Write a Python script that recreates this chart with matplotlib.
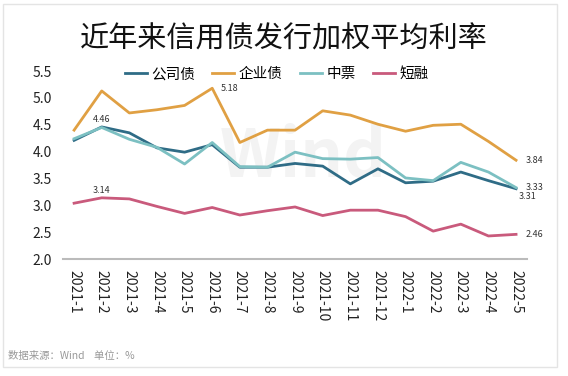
import matplotlib.pyplot as plt
from matplotlib.patches import Rectangle

plt.rcParams['font.family'] = ['Noto Sans CJK SC', 'DejaVu Sans']

months = ['2021-1', '2021-2', '2021-3', '2021-4', '2021-5', '2021-6', '2021-7', '2021-8',
          '2021-9', '2021-10', '2021-11', '2021-12', '2022-1', '2022-2', '2022-3', '2022-4', '2022-5']
gongsi = [4.21, 4.46, 4.35, 4.07, 3.99, 4.13, 3.71, 3.71, 3.78, 3.73, 3.40, 3.68, 3.42, 3.45, 3.62, 3.46, 3.31]
qiye = [4.40, 5.13, 4.72, 4.78, 4.86, 5.18, 4.17, 4.40, 4.40, 4.76, 4.68, 4.51, 4.38, 4.49, 4.51, 4.19, 3.84]
zhongpiao = [4.24, 4.45, 4.23, 4.08, 3.77, 4.17, 3.72, 3.71, 3.99, 3.87, 3.86, 3.89, 3.51, 3.46, 3.80, 3.62, 3.33]
duanrong = [3.04, 3.14, 3.12, 2.98, 2.85, 2.96, 2.82, 2.90, 2.97, 2.81, 2.91, 2.91, 2.79, 2.52, 2.65, 2.43, 2.46]

fig = plt.figure(figsize=(5.68, 3.76), dpi=100)
ax = fig.add_axes([0.111, 0.311, 0.817, 0.50])

x = range(len(months))
ax.plot(x, gongsi, color='#2f6c86', lw=2, label='公司债')
ax.plot(x, qiye, color='#e0a043', lw=2, label='企业债')
ax.plot(x, zhongpiao, color='#7cc0c2', lw=2, label='中票')
ax.plot(x, duanrong, color='#c95a7c', lw=2, label='短融')

# watermark
ax.text(8.3, 3.9, 'Wind', fontsize=48, color='#f3f3f3', ha='center', va='center',
        fontweight='bold', zorder=0)

# value labels
lab = dict(fontsize=6.5, color='#333333')
ax.text(1, 4.52, '4.46', ha='center', va='bottom', **lab)
ax.text(5.3, 5.18, '5.18', ha='left', va='center', **lab)
ax.text(1, 3.19, '3.14', ha='center', va='bottom', **lab)
ax.text(16.35, 3.84, '3.84', ha='left', va='center', **lab)
ax.text(16.35, 3.33, '3.33', ha='left', va='center', **lab)
ax.text(16.1, 3.17, '3.31', ha='left', va='center', **lab)
ax.text(16.35, 2.46, '2.46', ha='left', va='center', **lab)

ax.set_xlim(-0.4, 16.4)
ax.set_ylim(2.0, 5.5)
ax.set_yticks([2.0, 2.5, 3.0, 3.5, 4.0, 4.5, 5.0, 5.5])
ax.set_yticklabels(['2.0', '2.5', '3.0', '3.5', '4.0', '4.5', '5.0', '5.5'], fontsize=10, color='#222222')
ax.set_xticks(list(x))
ax.set_xticklabels(months, rotation=270, fontsize=10, color='#222222')
ax.tick_params(axis='both', length=0, pad=8)
for s in ['top', 'right', 'left']:
    ax.spines[s].set_visible(False)
ax.spines['bottom'].set_color('#bbbbbb')
ax.spines['bottom'].set_linewidth(1.5)

ax.legend(loc='upper center', bbox_to_anchor=(0.46, 1.09), ncol=4, frameon=False,
          fontsize=10.5, handlelength=1.5, handletextpad=0.3, columnspacing=1.2)

fig.text(0.5, 0.895, '近年来信用债发行加权平均利率', fontsize=21, ha='center', va='center', color='#111111')
fig.text(0.014, 0.052, '数据来源：Wind    单位：%', fontsize=7.5, color='#999999', ha='left', va='center')

fig.patches.append(Rectangle((0.006, 0.025), 0.975, 0.965, transform=fig.transFigure,
                             fill=False, edgecolor='#e4e4e4', lw=1))

fig.savefig('out.png', dpi=100)
